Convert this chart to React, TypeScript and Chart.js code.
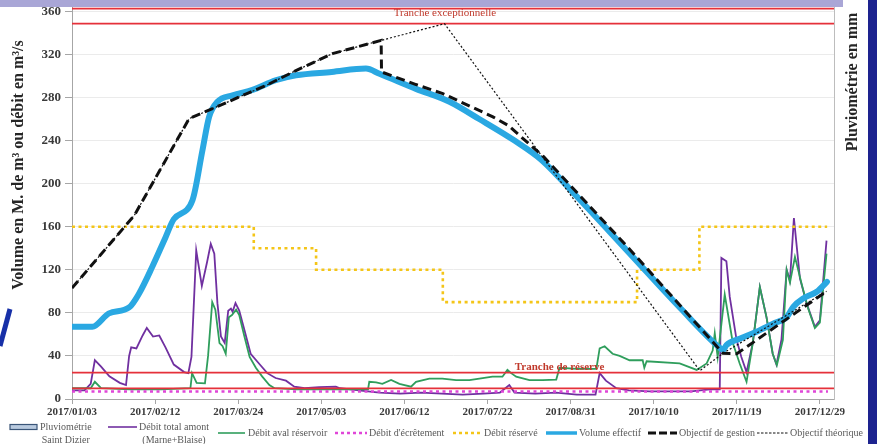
import { useEffect, useRef } from "react";
import { Chart, registerables } from "chart.js";

Chart.register(...registerables);

type Pt = [number, number];

// x axis: day of year (0 = 2017-01-01)
const xTickLabels = [
  "2017/01/03", "2017/02/12", "2017/03/24", "2017/05/03", "2017/06/12",
  "2017/07/22", "2017/08/31", "2017/10/10", "2017/11/19", "2017/12/29",
];
const yTickValues = [0, 40, 80, 120, 160, 200, 240, 280, 320, 360];

const X_MIN = 2;
const X_MAX = 368.8;
const Y_MAX = 364;

// Débit total amont (Marne+Blaise), m3/s
const debitAmont: Pt[] = [
  [2, 8], [8, 8], [11, 14], [13, 36], [16, 30], [20, 21], [25, 15], [28, 13], [29.5, 40], [30.5, 48],
  [33, 47], [36, 59], [38, 66], [41, 58], [44, 59], [47, 48], [51, 32], [56, 25], [58, 24], [59.5, 39],
  [61.8, 138], [64.5, 105], [67, 127], [68.8, 144], [70.5, 135], [72, 89], [73.7, 58], [75.5, 52],
  [77.2, 82], [78.5, 84], [79.3, 81], [80.7, 89], [82.5, 82], [85, 64], [88, 42], [92, 33], [96, 24],
  [100, 19.5], [105, 17], [109, 11.5], [114, 10], [121, 11], [129, 11.5], [131, 10], [140, 8], [150, 6],
  [160, 5], [170, 6], [180, 5], [190, 4], [200, 5], [208, 6], [212.5, 13], [215, 6], [225, 5], [235, 6],
  [245, 4], [254, 4], [256, 24], [259, 17], [264, 10], [270, 8], [280, 7], [290, 7], [300, 7], [309, 9],
  [313.8, 9], [314.6, 131], [317, 128], [318.6, 95], [321.9, 55], [324.2, 39], [326.7, 25], [329.7, 52],
  [333.1, 104], [336.3, 76], [339.3, 42], [341.1, 32], [343.5, 55], [346, 120], [347.6, 110],
  [349.5, 168], [352.4, 112], [355.6, 89], [359.6, 67], [362, 73], [365.2, 147],
];

// Débit aval réservoir, m3/s
const debitAval: Pt[] = [
  [2, 10], [11, 10], [13, 16], [16, 10], [30, 9], [45, 9], [59, 10], [59.8, 24], [62, 15], [66, 14.6],
  [67.5, 40], [69.5, 90], [71, 83], [73, 52], [74.5, 49], [76, 42], [77.5, 76], [79, 78], [81, 83],
  [82.5, 78], [85, 58], [87.5, 39], [90.5, 29], [93.5, 21], [97, 13], [99.5, 10], [110, 9], [120, 9],
  [130, 9], [144.5, 9], [145.1, 16], [148.4, 15.5], [151.4, 14], [155.6, 17.6], [159.6, 14],
  [165.2, 11.4], [167.6, 16], [174, 19], [180.3, 19], [186.9, 17.6], [193.3, 17.6], [198.1, 19],
  [204.4, 20.7], [209.2, 20.7], [211.6, 27], [213.4, 24], [215.8, 20.7], [222.2, 17.6], [228.5, 17.6],
  [235.1, 18], [236.7, 29], [245, 28], [254.4, 28], [256, 47], [258.4, 49], [262.2, 42], [265.6, 40],
  [270.4, 36], [276.7, 36], [277.5, 29], [278.6, 35], [294.5, 33], [302.7, 27], [307.5, 33],
  [310.4, 45], [311.4, 61], [312.8, 39], [316.2, 97], [320.1, 52], [323.4, 33], [326.7, 16],
  [329.7, 52], [333.1, 104], [336.3, 76], [339.3, 42], [341.3, 31.5], [344.2, 55], [346, 120],
  [347.6, 108], [350, 132], [353.2, 107], [356.2, 85], [359.6, 66], [362, 71], [365.2, 135],
];

// Volume effectif, millions de m3
const volumeEffectif: Pt[] = [
  [2, 67], [11.8, 67], [19.8, 79.5], [29.5, 85], [34.3, 98], [40.7, 123], [47, 150], [51, 167],
  [60, 184.6], [64.8, 231], [68, 262], [72, 276], [79.3, 282], [88.9, 287], [100, 296], [109.8, 300.6],
  [127, 303.7], [143.5, 306.8], [150, 302], [167.6, 288], [183.7, 276], [198, 260], [215, 240],
  [228, 222], [245, 188], [270, 136], [295, 84], [313.5, 48], [315.4, 45.5], [317, 50], [323.4, 56],
  [331.5, 62.5], [339.5, 70], [346, 76], [349.2, 85.6], [354, 93.4], [360.5, 99.6], [365.4, 108.8],
];

// Objectif de gestion
const objectifGestion: Pt[] = [
  [2, 103], [32, 170.5], [58.4, 260.4], [71.3, 271], [82.5, 280.5], [95.3, 291], [109.8, 305],
  [127.4, 320.7], [150.8, 333], [151, 303.7], [167.6, 292], [180.5, 283.6], [204.6, 262], [212, 254],
  [229, 225], [270, 140], [315.4, 42.4], [322, 42], [365.2, 100],
];

// Objectif théorique
const objectifTheorique: Pt[] = [
  [2, 103], [32, 170.5], [58.4, 260.4], [71.3, 271], [82.5, 280.5], [95.3, 291], [109.8, 305],
  [127.4, 320.7], [150.8, 333], [181.3, 348.5], [304.2, 26.3], [315.4, 42.4], [365.2, 100],
];

// Débit réservé (step changes)
const debitReserve: Pt[] = [
  [2, 160], [89.5, 140], [119.5, 120], [180.5, 90], [274, 120], [304, 160], [365.5, 160],
];

const debitEcretement = 7;
const trancheExceptionnelle = [348.6, 362.5];
const trancheReserve = [9.9, 24.4];

const legendLabels: string[][] = [
  ["Pluviométrie", "Saint Dizier"],
  ["Débit total amont", "(Marne+Blaise)"],
  ["Débit aval réservoir"],
  ["Débit d'écrêtement"],
  ["Débit réservé"],
  ["Volume effectif"],
  ["Objectif de gestion"],
  ["Objectif théorique"],
];

const SERIF = '"Liberation Serif", "Times New Roman", serif';
const C = {
  purple: "#7030a0",
  green: "#2f9e5c",
  blue: "#2aa8e2",
  yellow: "#f4c518",
  pink: "#e046d8",
  red: "#e5313a",
  black: "#111111",
  axis: "#a6a6a6",
};

const dayOfYear = (label: string) => {
  const [y, m, d] = label.split("/").map(Number);
  return Math.round((Date.UTC(y, m - 1, d) - Date.UTC(2017, 0, 1)) / 86400000);
};
const xTickDays = xTickLabels.map(dayOfYear);

const toXY = (pts: Pt[]) => pts.map(([x, y]) => ({ x, y }));
const flat = (v: number, from = X_MIN, to = X_MAX) => [{ x: from, y: v }, { x: to, y: v }];

const line = (data: any[], color: string, width: number, extra: any = {}) => ({
  type: "line",
  data,
  borderColor: color,
  backgroundColor: color,
  borderWidth: width,
  pointRadius: 0,
  fill: false,
  tension: 0,
  yAxisID: "y",
  ...extra,
});

// Decorations, axis titles, band labels and the legend
const overlayPlugin = {
  id: "overlay",
  afterDatasetsDraw(chart: any) {
    const { ctx, scales } = chart;
    const x = scales.x, y = scales.y;
    ctx.save();
    ctx.fillStyle = "#c0392b";
    ctx.textAlign = "center";
    ctx.textBaseline = "middle";
    ctx.font = `11px ${SERIF}`;
    ctx.fillText("Tranche exceptionnelle", x.getPixelForValue(181.5), y.getPixelForValue(358.4));
    ctx.font = `bold 11px ${SERIF}`;
    ctx.fillText("Tranche de réserve", x.getPixelForValue(236.7), y.getPixelForValue(29.7));
    ctx.restore();
  },
  afterDraw(chart: any) {
    const { ctx } = chart;
    ctx.save();

    // header band and side decorations
    ctx.fillStyle = "#a9a6d6";
    ctx.fillRect(0, 0, 843, 7);
    ctx.fillStyle = "#1d238f";
    ctx.fillRect(868, 0, 9, 444);
    ctx.strokeStyle = "#1730a8";
    ctx.lineWidth = 5;
    ctx.beginPath();
    ctx.moveTo(10, 309);
    ctx.lineTo(0, 346);
    ctx.stroke();

    // axis titles
    ctx.fillStyle = "#262626";
    ctx.textAlign = "center";
    ctx.textBaseline = "middle";
    ctx.font = `bold 16px ${SERIF}`;
    ctx.save();
    ctx.translate(19, 165);
    ctx.rotate(-Math.PI / 2);
    ctx.fillText("Volume en M. de m³ ou débit en m³/s", 0, 0);
    ctx.restore();
    ctx.save();
    ctx.translate(853, 82);
    ctx.rotate(-Math.PI / 2);
    ctx.fillText("Pluviométrie en mm", 0, 0);
    ctx.restore();

    // legend
    const icons: { x0: number; x1: number; tx: number; draw: (a: number, b: number, yy: number) => void }[] = [
      { x0: 10, x1: 37, tx: 40, draw: (a, b, yy) => {
        ctx.fillStyle = "#b9cadf"; ctx.fillRect(a, yy - 2.5, b - a, 5);
        ctx.strokeStyle = "#3a5578"; ctx.lineWidth = 1.2; ctx.strokeRect(a, yy - 2.5, b - a, 5);
      } },
      { x0: 108, x1: 137, tx: 139, draw: (a, b, yy) => stroke(a, b, yy, C.purple, 1.6, []) },
      { x0: 218, x1: 245, tx: 248, draw: (a, b, yy) => stroke(a, b, yy, C.green, 1.6, []) },
      { x0: 335, x1: 367, tx: 369, draw: (a, b, yy) => stroke(a, b, yy, C.pink, 2.5, [3, 3]) },
      { x0: 453, x1: 482, tx: 484, draw: (a, b, yy) => stroke(a, b, yy, C.yellow, 2.5, [3, 3]) },
      { x0: 546, x1: 577, tx: 579, draw: (a, b, yy) => stroke(a, b, yy, C.blue, 3.5, []) },
      { x0: 648, x1: 677, tx: 679, draw: (a, b, yy) => stroke(a, b, yy, C.black, 3, [8, 3]) },
      { x0: 757, x1: 788, tx: 790, draw: (a, b, yy) => stroke(a, b, yy, C.black, 1, [2.5, 1.5]) },
    ];
    function stroke(a: number, b: number, yy: number, color: string, w: number, dash: number[]) {
      ctx.save();
      ctx.strokeStyle = color;
      ctx.lineWidth = w;
      ctx.setLineDash(dash);
      ctx.beginPath();
      ctx.moveTo(a, yy);
      ctx.lineTo(b, yy);
      ctx.stroke();
      ctx.restore();
    }
    ctx.font = `10px ${SERIF}`;
    ctx.textAlign = "left";
    ctx.textBaseline = "middle";
    legendLabels.forEach((lines, i) => {
      const it = icons[i];
      const top = lines.length > 1 ? 427 : 433;
      it.draw(it.x0, it.x1, top);
      ctx.fillStyle = "#595959";
      lines.forEach((t, k) => {
        const w = ctx.measureText(lines[0]).width;
        const tw = ctx.measureText(t).width;
        const tx = k === 0 ? it.tx : it.tx + (w - tw) / 2;
        ctx.fillText(t, tx, top + k * 13);
      });
    });
    ctx.restore();
  },
};

export default function App() {
  const ref = useRef<HTMLCanvasElement | null>(null);

  useEffect(() => {
    if (!ref.current) return;
    const datasets: any[] = [
      line(toXY(objectifTheorique), C.black, 1.2, { label: "Objectif théorique", borderDash: [2, 2] }),
      line(toXY(objectifGestion), C.black, 3, { label: "Objectif de gestion", borderDash: [9, 5] }),
      line(toXY(volumeEffectif), C.blue, 6, {
        label: "Volume effectif", cubicInterpolationMode: "monotone", borderJoinStyle: "round", borderCapStyle: "round",
      }),
      line(toXY(debitReserve), C.yellow, 2.6, { label: "Débit réservé", stepped: "before", borderDash: [3, 3.5] }),
      ...trancheExceptionnelle.map((v) => line(flat(v), C.red, 1.8, { label: "Tranche exceptionnelle" })),
      ...trancheReserve.map((v) => line(flat(v), C.red, 1.8, { label: "Tranche de réserve" })),
      line(flat(debitEcretement, X_MIN, 365.9), C.pink, 2.5, { label: "Débit d'écrêtement", borderDash: [3, 3.5] }),
      line(toXY(debitAval), C.green, 1.8, { label: "Débit aval réservoir" }),
      line(toXY(debitAmont), C.purple, 1.8, { label: "Débit total amont" }),
    ];

    const chart = new Chart(ref.current, {
      type: "line",
      data: { datasets },
      options: {
        animation: false,
        responsive: false,
        devicePixelRatio: 1,
        layout: { padding: { top: 7, left: 0, right: 0, bottom: 0 } },
        plugins: { legend: { display: false }, tooltip: { enabled: false } },
        scales: {
          x: {
            type: "linear",
            min: X_MIN,
            max: X_MAX,
            afterBuildTicks: (s: any) => { s.ticks = xTickDays.map((v) => ({ value: v })); },
            afterFit: (s: any) => { s.height = 45; s.paddingLeft = 0; s.paddingRight = 0; },
            ticks: {
              autoSkip: false,
              maxRotation: 0,
              padding: 2,
              color: "#3a3a3a",
              font: { family: SERIF, size: 11, weight: "bold" },
              callback: (v: any) => xTickLabels[xTickDays.indexOf(Number(v))] ?? "",
            },
            grid: { drawOnChartArea: false, drawTicks: true, tickLength: 5, tickColor: C.axis },
            border: { display: true, color: C.axis, width: 1 },
          },
          y: {
            type: "linear",
            position: "left",
            min: 0,
            max: Y_MAX,
            afterBuildTicks: (s: any) => { s.ticks = yTickValues.map((v) => ({ value: v })); },
            afterFit: (s: any) => { s.width = 72; s.paddingTop = 0; s.paddingBottom = 0; },
            ticks: {
              padding: 4,
              color: "#3a3a3a",
              font: { family: SERIF, size: 13, weight: "bold" },
            },
            grid: { color: "#ebebeb", lineWidth: 1, tickLength: 7, tickColor: C.axis },
            border: { display: true, color: C.axis, width: 1 },
          },
          y2: {
            type: "linear",
            position: "right",
            min: 0,
            max: 1,
            afterFit: (s: any) => { s.width = 43; s.paddingTop = 0; s.paddingBottom = 0; },
            ticks: { display: false },
            grid: { drawOnChartArea: false, drawTicks: false },
            border: { display: true, color: "#bdbdbd", width: 1 },
          },
        },
      },
      plugins: [overlayPlugin],
    } as any);

    return () => chart.destroy();
  }, []);

  return (
    <div style={{ position: "absolute", left: 0, top: 0, width: 877, height: 444, background: "#fff" }}>
      <canvas ref={ref} width={877} height={444} style={{ display: "block", width: 877, height: 444 }} />
    </div>
  );
}
